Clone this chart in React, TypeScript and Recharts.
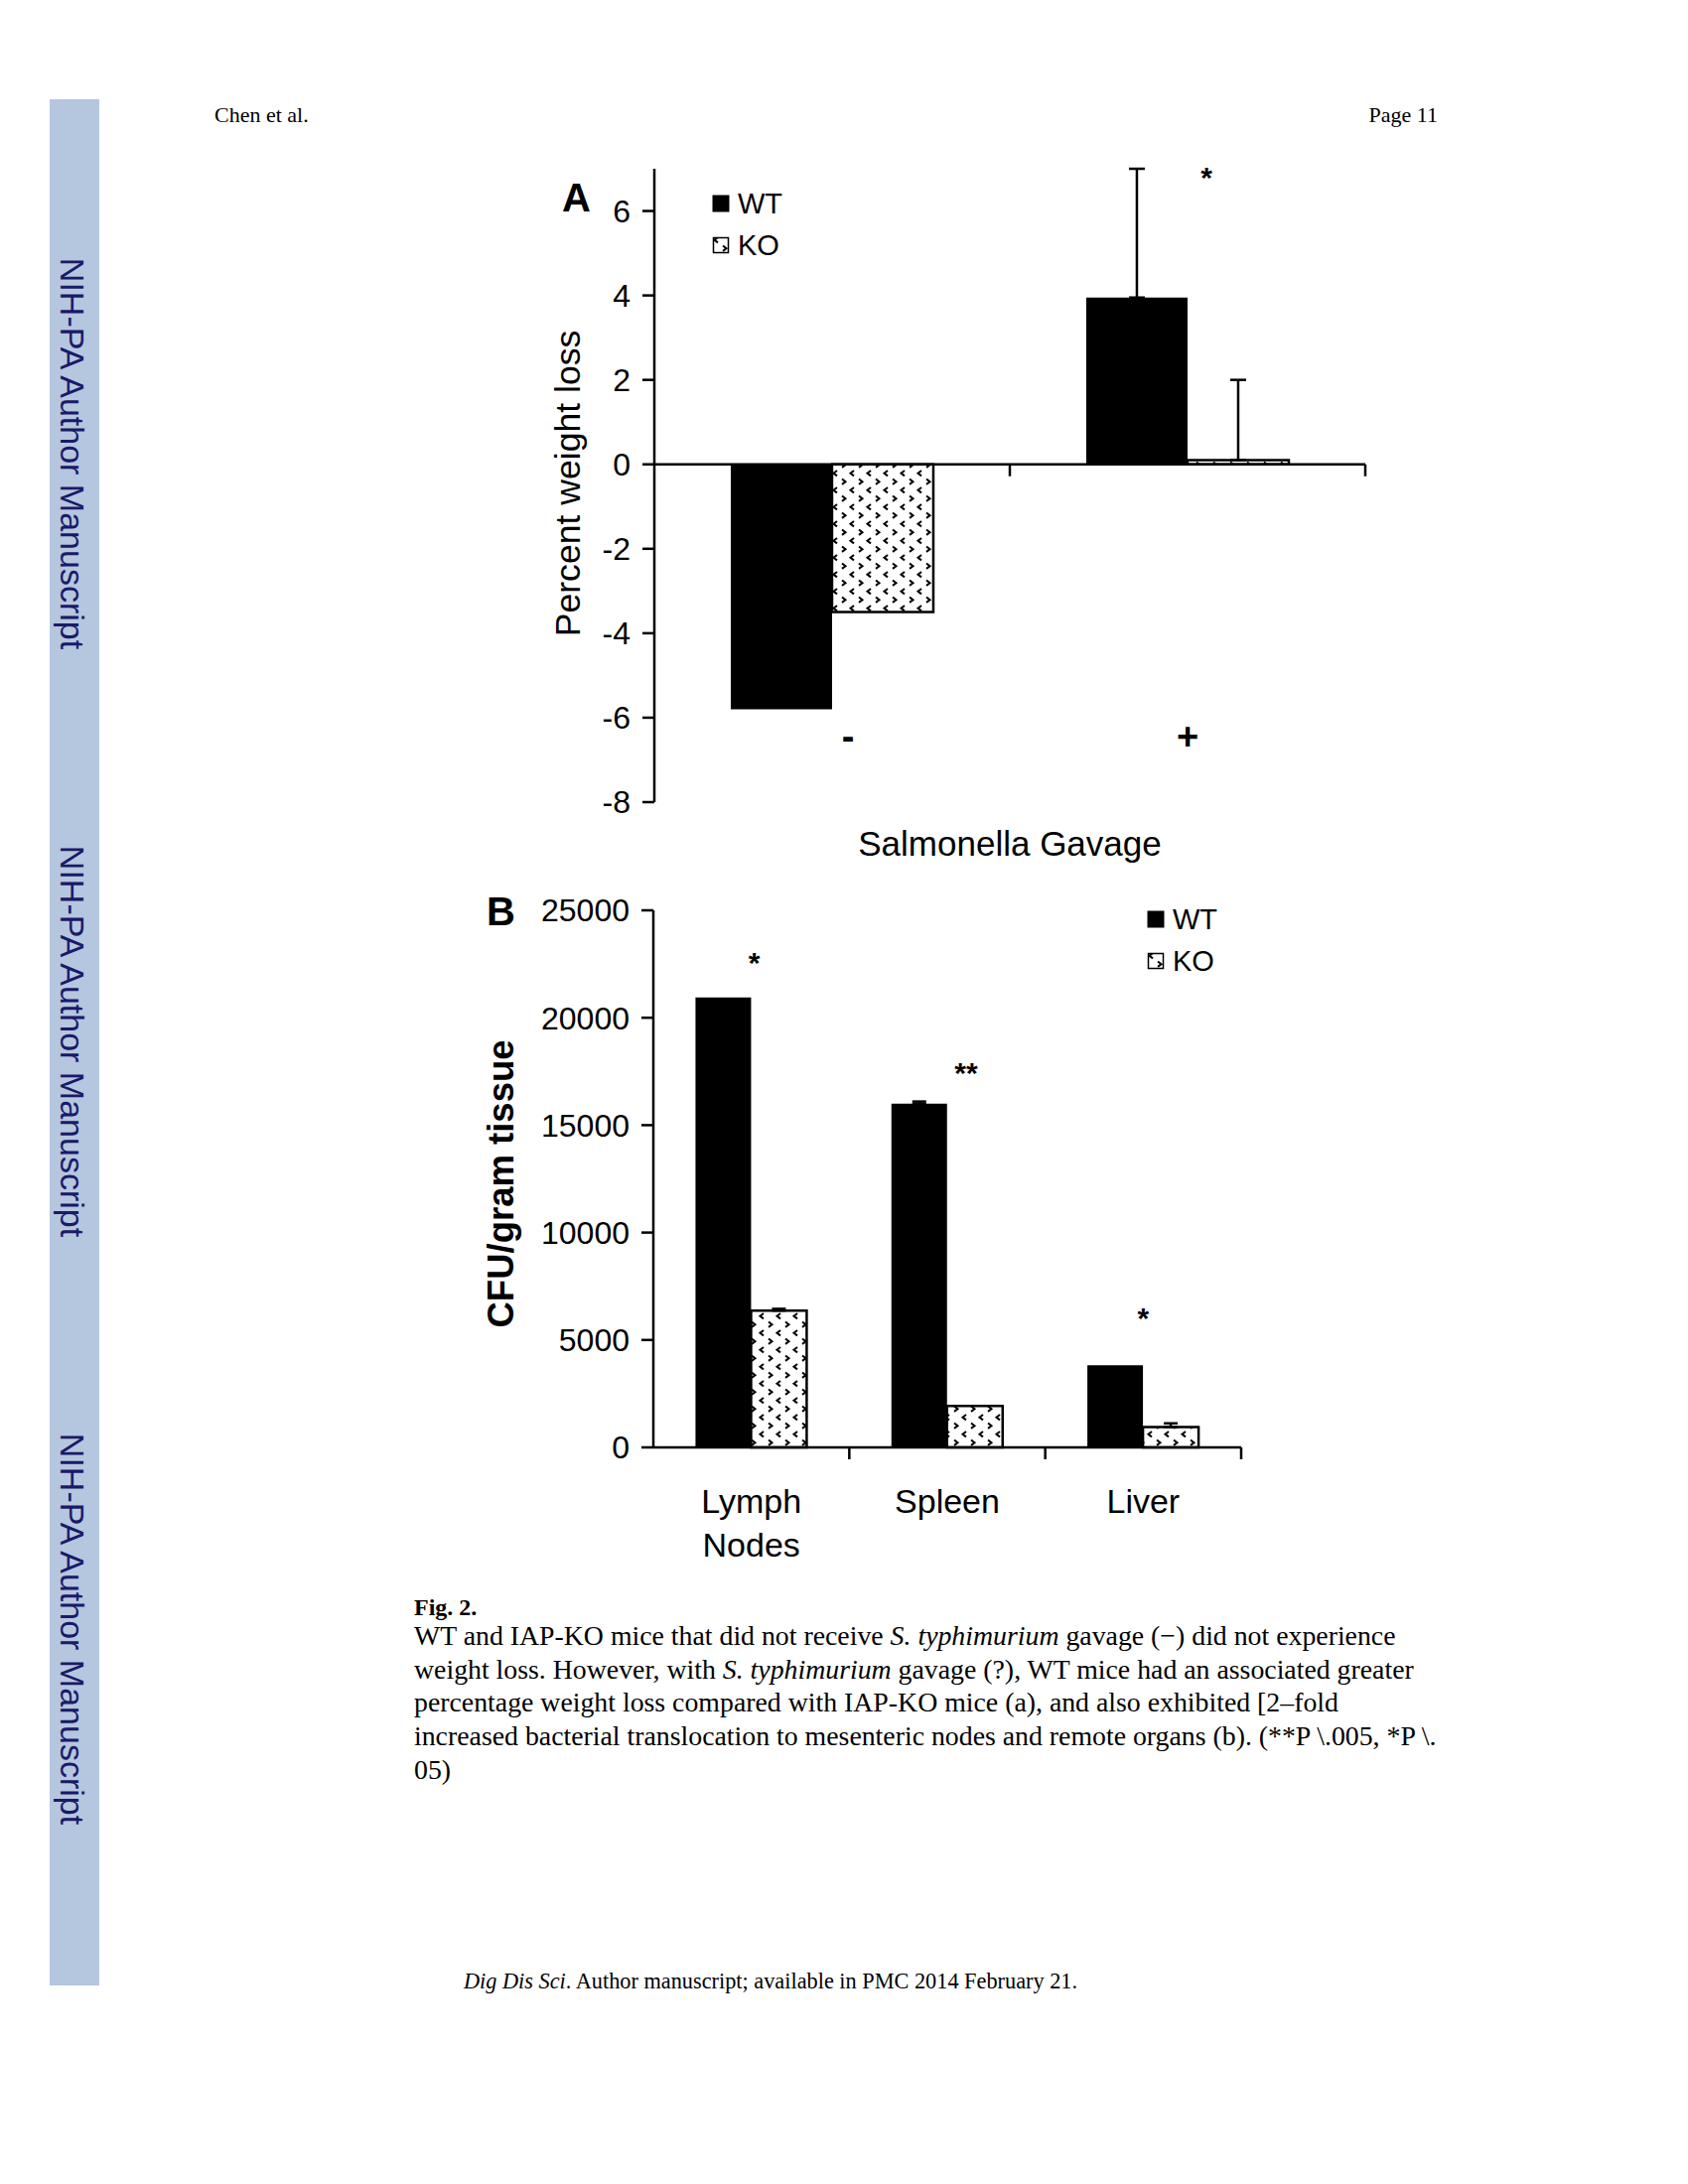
import React from 'react';
import { BarChart, Bar, XAxis, YAxis, ErrorBar, ReferenceLine, ReferenceDot, Legend } from 'recharts';

const SANS = '"Liberation Sans", Arial, Helvetica, sans-serif';
const SERIF = '"Liberation Serif", "Times New Roman", Times, serif';

// Panel A: percent weight loss, without / with Salmonella gavage
const gavageGroups = ['-', '+'];
const wtWeightLoss = [-5.8, 3.95];
const koWeightLoss = [-3.5, 0.1];
const wtWeightErr = [null, 3.05];
const koWeightErr = [null, 1.9];
const weightTicks = [-8, -6, -4, -2, 0, 2, 4, 6];
const weightStars = [{ group: '+', y: 6.95, text: '*' }];

// Panel B: CFU per gram tissue
const tissues = ['Lymph Nodes', 'Spleen', 'Liver'];
const wtCfu = [20950, 16000, 3820];
const koCfu = [6370, 1930, 950];
const wtCfuErr = [null, 100, null];
const koCfuErr = [80, null, 170];
const cfuTicks = [0, 5000, 10000, 15000, 20000, 25000];
const cfuStars = [
  { tissue: 'Lymph Nodes', y: 22900, text: '*' },
  { tissue: 'Spleen', y: 17740, text: '**' },
  { tissue: 'Liver', y: 6320, text: '*' },
];

const seriesOrder = ['WT', 'KO'];

const upOnly = (e: number | null) => (e == null ? null : [0, e]);

const weightData = gavageGroups.map((g, i) => ({
  group: g,
  WT: wtWeightLoss[i],
  KO: koWeightLoss[i],
  wtErr: upOnly(wtWeightErr[i]),
  koErr: upOnly(koWeightErr[i]),
}));

const cfuData = tissues.map((t, i) => ({
  tissue: t,
  WT: wtCfu[i],
  KO: koCfu[i],
  wtErr: upOnly(wtCfuErr[i]),
  koErr: upOnly(koCfuErr[i]),
}));

const KoPattern = ({ id }: { id: string }) => (
  <pattern id={id} width={17} height={17} patternUnits="userSpaceOnUse">
    <rect width={17} height={17} fill="#fff" />
    <path d="M6 1 L2.5 3.7 L6 6.4" stroke="#000" strokeWidth={2} fill="none" />
    <path d="M11 9.5 L14.5 12.2 L11 14.9" stroke="#000" strokeWidth={2} fill="none" />
  </pattern>
);

// axis line drawn through y = 0 with Excel-style ticks between categories
const categoryAxisShape = (count: number) => (props: any) => {
  const { x1, x2, y1 } = props;
  const step = (x2 - x1) / count;
  return (
    <g>
      <line x1={x1} y1={y1} x2={x2} y2={y1} stroke="#000" strokeWidth={2.5} />
      {Array.from({ length: count }, (_, i) => (
        <line
          key={i}
          x1={x1 + step * (i + 1)}
          x2={x1 + step * (i + 1)}
          y1={y1}
          y2={y1 + 12}
          stroke="#000"
          strokeWidth={2.5}
        />
      ))}
    </g>
  );
};

const GenotypeLegend = ({ payload }: any) => (
  <div style={{ fontFamily: SANS, fontSize: 29, color: '#000' }}>
    {(payload || []).map((entry: any) => (
      <div key={entry.value} style={{ display: 'flex', alignItems: 'center', height: 42 }}>
        <svg width={18} height={18} style={{ marginRight: 8, display: 'block' }}>
          {entry.value === 'WT' ? (
            <rect x={0.5} y={0.5} width={17} height={17} fill={entry.color} />
          ) : (
            <rect x={1.5} y={1.5} width={15} height={15} fill={entry.color} stroke="#000" strokeWidth={1.5} />
          )}
        </svg>
        <span style={{ lineHeight: 1 }}>{entry.value}</span>
      </div>
    ))}
  </div>
);

const starLabel = (text: string, dx: number) => (props: any) => {
  const vb = props.viewBox || {};
  return (
    <text
      x={vb.x + dx}
      y={vb.y}
      dy="0.57em"
      textAnchor="middle"
      fontFamily={SANS}
      fontSize={30}
      fontWeight="bold"
      fill="#000"
    >
      {text}
    </text>
  );
};

const SignTick = (props: any) => {
  const { x, y, payload } = props;
  // the minus sign sits a little right of its group centre in the original
  const shift = payload.value === '-' ? 16 : 0;
  return (
    <text x={x + shift} y={y - 66} textAnchor="middle" dominantBaseline="central" fontFamily={SANS} fontSize={38} fontWeight="bold" fill="#000">
      {payload.value}
    </text>
  );
};

const TissueTick = (props: any) => {
  const { x, y, payload } = props;
  const lines = String(payload.value).split(' ');
  return (
    <text x={x} textAnchor="middle" dominantBaseline="central" fontFamily={SANS} fontSize={34} fill="#000">
      {lines.map((l, i) => (
        <tspan key={i} x={x} y={y + 53.5 + i * 44}>
          {l}
        </tspan>
      ))}
    </text>
  );
};

const yTick = { fill: '#000', fontSize: 32, fontFamily: SANS };
const axisStroke = { stroke: '#000', strokeWidth: 2.5 };
const legendSorter = (item: any) => seriesOrder.indexOf(item.value);

const WeightChart = () => (
  <BarChart
    width={920}
    height={740}
    data={weightData}
    margin={{ top: 20, right: 25, left: 0, bottom: 0 }}
    barCategoryGap="21.5%"
    barGap={0}
  >
    <defs>
      <KoPattern id="koA" />
    </defs>
    <XAxis
      dataKey="group"
      height={82}
      axisLine={false}
      tickLine={false}
      tickSize={0}
      tickMargin={0}
      tick={(p: any) => <SignTick {...p} />}
      label={(p: any) => {
        const vb = p.viewBox || {};
        return (
          <text x={vb.x + vb.width / 2} y={vb.y + 41} textAnchor="middle" dominantBaseline="central" fontFamily={SANS} fontSize={35} fill="#000">
            Salmonella Gavage
          </text>
        );
      }}
    />
    <YAxis
      width={179}
      domain={[-8, 7]}
      ticks={weightTicks}
      interval={0}
      tickSize={12}
      tickMargin={12}
      axisLine={axisStroke}
      tickLine={axisStroke}
      tick={yTick}
      label={(p: any) => {
        const vb = p.viewBox || {};
        const cx = vb.x + 92;
        const cy = vb.y + vb.height / 2 - 2;
        return (
          <text x={cx} y={cy} transform={`rotate(-90 ${cx} ${cy})`} textAnchor="middle" dominantBaseline="central" fontFamily={SANS} fontSize={35.6} fill="#000">
            Percent weight loss
          </text>
        );
      }}
    />
    <ReferenceLine y={0} shape={categoryAxisShape(gavageGroups.length)} />
    <Bar dataKey="WT" name="WT" fill="#000" isAnimationActive={false}>
      <ErrorBar dataKey="wtErr" direction="y" width={8} stroke="#000" strokeWidth={2.5} />
    </Bar>
    <Bar dataKey="KO" name="KO" fill="url(#koA)" stroke="#000" strokeWidth={2.5} isAnimationActive={false}>
      <ErrorBar dataKey="koErr" direction="y" width={8} stroke="#000" strokeWidth={2.5} />
    </Bar>
    {weightStars.map((s) => (
      <ReferenceDot key={s.group} x={s.group} y={s.y} r={0} fill="none" stroke="none" ifOverflow="visible" label={starLabel(s.text, 19)} />
    ))}
    <Legend
      layout="vertical"
      align="center"
      verticalAlign="middle"
      itemSorter={legendSorter}
      wrapperStyle={{ left: 237, top: 34, width: 'auto' }}
      content={(p: any) => <GenotypeLegend payload={p.payload} />}
    />
  </BarChart>
);

const starShiftB = [3, 19, 0];

const CfuChart = () => (
  <BarChart
    width={840}
    height={720}
    data={cfuData}
    margin={{ top: 37, right: 30, left: 0, bottom: 0 }}
    barCategoryGap="21.5%"
    barGap={0}
  >
    <defs>
      <KoPattern id="koB" />
    </defs>
    <XAxis
      dataKey="tissue"
      height={142}
      axisLine={false}
      tickLine={false}
      tickSize={0}
      tickMargin={0}
      interval={0}
      tick={(p: any) => <TissueTick {...p} />}
    />
    <YAxis
      width={218}
      domain={[0, 25000]}
      ticks={cfuTicks}
      interval={0}
      tickSize={12}
      tickMargin={12}
      axisLine={axisStroke}
      tickLine={axisStroke}
      tick={yTick}
      label={(p: any) => {
        const vb = p.viewBox || {};
        const cx = vb.x + 64;
        const cy = vb.y + vb.height / 2 + 5;
        return (
          <text x={cx} y={cy} transform={`rotate(-90 ${cx} ${cy})`} textAnchor="middle" dominantBaseline="central" fontFamily={SANS} fontSize={36.5} fontWeight="bold" fill="#000">
            CFU/gram tissue
          </text>
        );
      }}
    />
    <ReferenceLine y={0} shape={categoryAxisShape(tissues.length)} />
    <Bar dataKey="WT" name="WT" fill="#000" isAnimationActive={false}>
      <ErrorBar dataKey="wtErr" direction="y" width={7} stroke="#000" strokeWidth={2.5} />
    </Bar>
    <Bar dataKey="KO" name="KO" fill="url(#koB)" stroke="#000" strokeWidth={2.5} isAnimationActive={false}>
      <ErrorBar dataKey="koErr" direction="y" width={7} stroke="#000" strokeWidth={2.5} />
    </Bar>
    {cfuStars.map((s, i) => (
      <ReferenceDot key={s.tissue} x={s.tissue} y={s.y} r={0} fill="none" stroke="none" ifOverflow="visible" label={starLabel(s.text, starShiftB[i])} />
    ))}
    <Legend
      layout="vertical"
      align="center"
      verticalAlign="middle"
      itemSorter={legendSorter}
      wrapperStyle={{ left: 715, top: 25, width: 'auto' }}
      content={(p: any) => <GenotypeLegend payload={p.payload} />}
    />
  </BarChart>
);

const lineAt = (top: number): React.CSSProperties => ({
  position: 'absolute',
  top,
  transform: 'translateY(-50%)',
  lineHeight: 1,
  whiteSpace: 'nowrap',
});

const sidebarCenters = [457, 1049, 1641];

export default function App() {
  return (
    <div style={{ position: 'absolute', left: 0, top: 0, width: 1700, height: 2200, background: '#fff', overflow: 'hidden', color: '#000' }}>
      <div style={{ position: 'absolute', left: 50, top: 100, width: 50, height: 1900, background: '#b5c6df' }} />
      {sidebarCenters.map((c) => (
        <div
          key={c}
          style={{
            position: 'absolute',
            left: 73,
            top: c,
            transform: 'translate(-50%, -50%)',
            writingMode: 'vertical-rl',
            fontFamily: SANS,
            fontSize: 34,
            color: '#1a1a68',
            lineHeight: 1,
            whiteSpace: 'nowrap',
          }}
        >
          NIH-PA Author Manuscript
        </div>
      ))}

      <div style={{ ...lineAt(116), left: 216, fontFamily: SERIF, fontSize: 22 }}>Chen et al.</div>
      <div style={{ ...lineAt(116), right: 1700 - 1448, fontFamily: SERIF, fontSize: 22 }}>Page 11</div>

      <div style={{ position: 'absolute', left: 480, top: 150 }}>
        <WeightChart />
      </div>
      <div style={{ ...lineAt(199), left: 566, fontFamily: SANS, fontSize: 40, fontWeight: 'bold' }}>A</div>

      <div style={{ position: 'absolute', left: 440, top: 880 }}>
        <CfuChart />
      </div>
      <div style={{ ...lineAt(918), left: 490, fontFamily: SANS, fontSize: 40, fontWeight: 'bold' }}>B</div>

      <div style={{ fontFamily: SERIF, fontSize: 27.8 }}>
        <div style={{ ...lineAt(1619), left: 417, fontWeight: 'bold', fontSize: 24 }}>Fig. 2.</div>
        <div style={{ ...lineAt(1648), left: 417 }}>
          WT and IAP-KO mice that did not receive <i>S. typhimurium</i> gavage (−) did not experience
        </div>
        <div style={{ ...lineAt(1682), left: 417 }}>
          weight loss. However, with <i>S. typhimurium</i> gavage (?), WT mice had an associated greater
        </div>
        <div style={{ ...lineAt(1715), left: 417 }}>
          percentage weight loss compared with IAP-KO mice (a), and also exhibited [2–fold
        </div>
        <div style={{ ...lineAt(1749), left: 417 }}>
          increased bacterial translocation to mesenteric nodes and remote organs (b). (**P \.005, *P \.
        </div>
        <div style={{ ...lineAt(1783), left: 417 }}>05)</div>
      </div>

      <div style={{ ...lineAt(1996), left: 467, fontFamily: SERIF, fontSize: 22.3 }}>
        <i>Dig Dis Sci</i>. Author manuscript; available in PMC 2014 February 21.
      </div>
    </div>
  );
}
